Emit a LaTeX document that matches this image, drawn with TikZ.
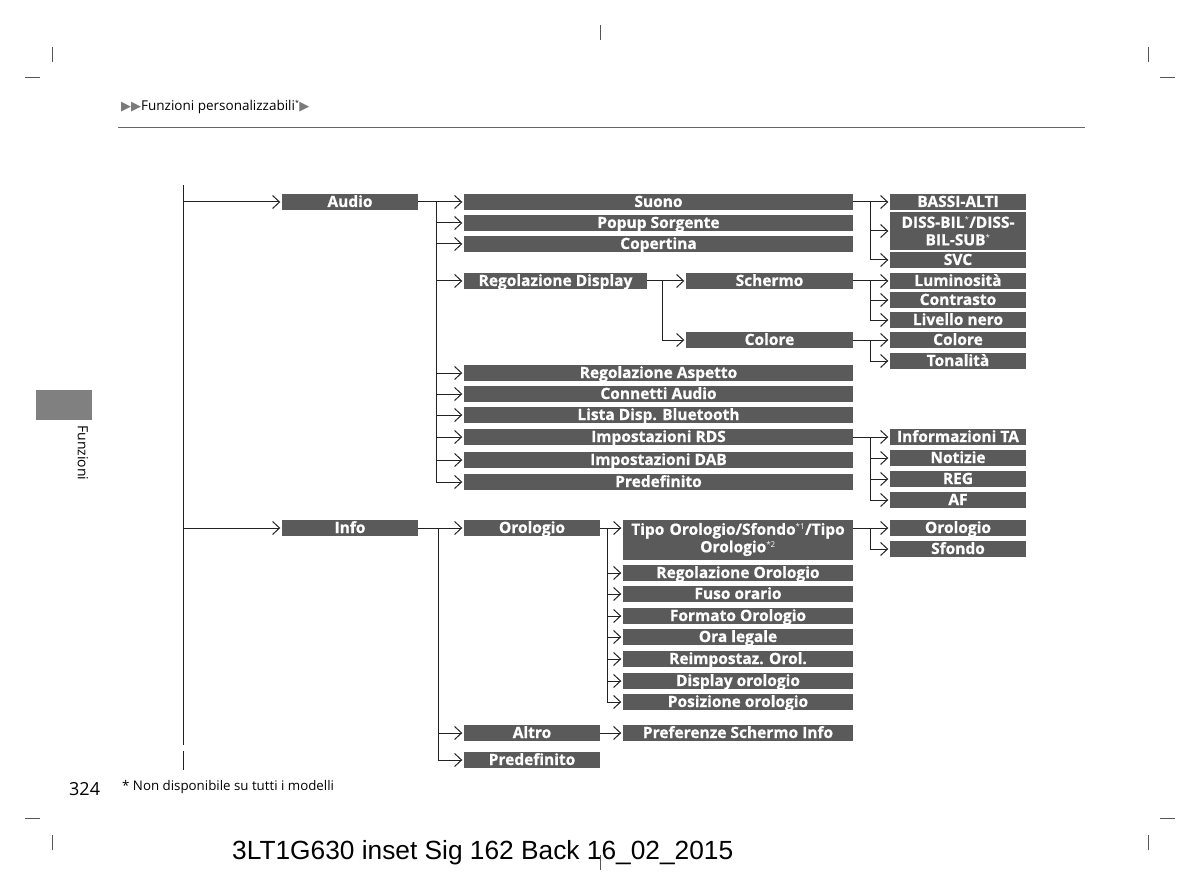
\documentclass[tikz,border=0pt]{standalone}
\usepackage{fontspec}
\setmainfont{Open Sans}
\newfontfamily\boxfont{Open Sans}[BoldFeatures={FakeBold=0.8}]
\newfontfamily\dv{DejaVu Sans}
\newfontfamily\arialf{Liberation Sans}
\usetikzlibrary{arrows.meta}
\definecolor{boxgray}{HTML}{5A5A5A}
\definecolor{linecol}{HTML}{222222}
\definecolor{tabgray}{HTML}{808080}
\definecolor{trigray}{HTML}{7A7A7A}
\definecolor{cropgray}{HTML}{555555}
\begin{document}
\begin{tikzpicture}[x=1pt,y=-1pt,
  boxbase/.style={fill=boxgray,text=white,inner sep=0pt,anchor=center,
    font=\boxfont\fontsize{15.5}{17.5}\selectfont\bfseries},
  box/.style={boxbase,minimum height=16.5pt,text height=11.5pt,text depth=1.5pt},
  twobox/.style={boxbase,align=center},
  ln/.style={draw=linecol,line width=1pt},
  arr/.style={ln,-{Straight Barb[length=7pt,width=13pt,line width=1pt]},shorten >=1.5pt},
  crop/.style={draw=cropgray,line width=0.8pt},
  wL1/.style={minimum width=136pt},
  wL2/.style={minimum width=389pt},
  wL3/.style={minimum width=136pt},
  wI2/.style={minimum width=230pt}
]
\useasboundingbox (0,0) rectangle (1200,896);

% crop marks
\draw[crop] (600,25) -- (600,40);
\draw[crop] (52,47) -- (52,62);
\draw[crop] (25,77) -- (40,77);
\draw[crop] (1148,47) -- (1148,62);
\draw[crop] (1160,77) -- (1175,77);
\draw[crop] (25,818) -- (40,818);
\draw[crop] (52,835) -- (52,850);
\draw[crop] (1160,818) -- (1175,818);
\draw[crop] (1148,835) -- (1148,850);
\draw[crop] (600,855) -- (600,870);

% header
\node[anchor=west,inner sep=0pt,font=\fontsize{13.5}{16}\selectfont] (hdr) at (121,107)
  {{\color{trigray}\dv\fontsize{13}{15}\selectfont ▶▶}Funzioni personalizzabili\textsuperscript{\fontsize{7}{8}\selectfont *}{\color{trigray}\dv\fontsize{13}{15}\selectfont ▶}};
\coordinate (r1) at (118,127);
\coordinate (r2) at (1085,127);
\draw[draw=gray!80!black,line width=0.9pt] (r1) -- (r2);

% side tab
\node[fill=tabgray,minimum width=56pt,minimum height=30pt,inner sep=0pt] (tab) at (63.5,404.5) {};
\node[rotate=-90,anchor=west,inner sep=0pt,font=\fontsize{14}{16}\selectfont] (tabtxt) at (83,425) {Funzioni};

% level 1
\node[box,wL1] (audio) at (350,202) {Audio};
\node[box,wL1] (info) at (350,528) {Info};

% audio level 2
\node[box,wL2] (suono) at (658.5,202) {Suono};
\node[box,wL2] (popup) at (658.5,223) {Popup Sorgente};
\node[box,wL2] (copertina) at (658.5,244) {Copertina};
\node[box,minimum width=183pt] (regdisp) at (555.5,281) {Regolazione Display};
\node[box,minimum width=167pt] (schermo) at (769.5,281) {Schermo};
\node[box,minimum width=167pt] (colore) at (769.5,340) {Colore};
\node[box,wL2] (regasp) at (658.5,373) {Regolazione Aspetto};
\node[box,wL2] (connetti) at (658.5,394) {Connetti Audio};
\node[box,wL2] (lista) at (658.5,415) {Lista Disp. Bluetooth};
\node[box,wL2] (rds) at (658.5,437) {Impostazioni RDS};
\node[box,wL2] (dab) at (658.5,460) {Impostazioni DAB};
\node[box,wL2] (predefa) at (658.5,482) {Predefinito};

% level 3 (right column)
\node[box,wL3] (bassi) at (958,202) {BASSI-ALTI};
\node[twobox,minimum width=136pt,minimum height=38pt,text width=136pt] (diss) at (958,231)
  {DISS-BIL\textsuperscript{\fontsize{8}{9}\selectfont\mdseries *}/DISS-\\BIL-SUB\textsuperscript{\fontsize{8}{9}\selectfont\mdseries *}};
\node[box,wL3] (svc) at (958,260) {SVC};
\node[box,wL3] (lumin) at (958,281) {Luminosità};
\node[box,wL3] (contrasto) at (958,300) {Contrasto};
\node[box,wL3] (livello) at (958,320) {Livello nero};
\node[box,wL3] (colore3) at (958,340) {Colore};
\node[box,wL3] (tonalita) at (958,361) {Tonalità};
\node[box,wL3] (infota) at (958,437) {Informazioni TA};
\node[box,wL3] (notizie) at (958,458) {Notizie};
\node[box,wL3] (reg) at (958,479) {REG};
\node[box,wL3] (af) at (958,500) {AF};
\node[box,wL3] (oro3) at (958,528) {Orologio};
\node[box,wL3] (sfondo) at (958,549) {Sfondo};

% info level 2
\node[box,wL1] (orologio) at (532,528) {Orologio};
\node[box,wL1] (altro) at (532,733) {Altro};
\node[box,wL1] (predefb) at (532,760) {Predefinito};

% info level 3
\node[twobox,minimum width=230pt,minimum height=40pt,text width=230pt] (tipo) at (738,539.5)
  {Tipo Orologio/Sfondo\textsuperscript{\fontsize{8}{9}\selectfont\mdseries *1}/Tipo\\Orologio\textsuperscript{\fontsize{8}{9}\selectfont\mdseries *2}};
\node[box,wI2] (regorol) at (738,573) {Regolazione Orologio};
\node[box,wI2] (fuso) at (738,594) {Fuso orario};
\node[box,wI2] (formato) at (738,616) {Formato Orologio};
\node[box,wI2] (ora) at (738,637) {Ora legale};
\node[box,wI2] (reimp) at (738,659) {Reimpostaz. Orol.};
\node[box,wI2] (dispor) at (738,681) {Display orologio};
\node[box,wI2] (posiz) at (738,702) {Posizione orologio};
\node[box,wI2] (pref) at (738,733) {Preferenze Schermo Info};

% main trunk
\coordinate (m1) at (183,185);
\coordinate (m2) at (183,745);
\coordinate (m3) at (183,751);
\coordinate (m4) at (183,770);
\draw[ln] (m1) -- (m2);
\draw[ln] (m3) -- (m4);
\draw[arr] (audio.west -| m1) -- (audio.west);
\draw[arr] (info.west -| m1) -- (info.west);

% audio branch
\coordinate (ab) at (436,0);
\draw[arr] (audio.east) -- (suono.west);
\draw[ln] (suono.west -| ab) -- (predefa.west -| ab);
\foreach \n in {popup,copertina,regdisp,regasp,connetti,lista,rds,dab,predefa}
  \draw[arr] (\n.west -| ab) -- (\n.west);

% regolazione display branch
\coordinate (rb) at (662,0);
\draw[arr] (regdisp.east) -- (schermo.west);
\draw[ln] (schermo.west -| rb) -- (colore.west -| rb);
\draw[arr] (colore.west -| rb) -- (colore.west);

% right column branches
\coordinate (tb) at (870,0);
\draw[arr] (suono.east) -- (bassi.west);
\draw[ln] (bassi.west -| tb) -- (svc.west -| tb);
\foreach \n in {diss,svc} \draw[arr] (\n.west -| tb) -- (\n.west);

\draw[arr] (schermo.east) -- (lumin.west);
\draw[ln] (lumin.west -| tb) -- (livello.west -| tb);
\foreach \n in {contrasto,livello} \draw[arr] (\n.west -| tb) -- (\n.west);

\draw[arr] (colore.east) -- (colore3.west);
\draw[ln] (colore3.west -| tb) -- (tonalita.west -| tb);
\draw[arr] (tonalita.west -| tb) -- (tonalita.west);

\draw[arr] (rds.east) -- (infota.west);
\draw[ln] (infota.west -| tb) -- (af.west -| tb);
\foreach \n in {notizie,reg,af} \draw[arr] (\n.west -| tb) -- (\n.west);

% info branch
\coordinate (ib) at (438,0);
\draw[arr] (info.east) -- (orologio.west);
\draw[ln] (orologio.west -| ib) -- (predefb.west -| ib);
\foreach \n in {altro,predefb} \draw[arr] (\n.west -| ib) -- (\n.west);

\coordinate (ob) at (607,0);
\draw[arr] (orologio.east) -- (orologio.east -| tipo.west);
\draw[ln] (orologio.east -| ob) -- (posiz.west -| ob);
\foreach \n in {regorol,fuso,formato,ora,reimp,dispor,posiz}
  \draw[arr] (\n.west -| ob) -- (\n.west);
\draw[arr] (altro.east) -- (pref.west);

\draw[arr] (tipo.east |- oro3.west) -- (oro3.west);
\draw[ln] (oro3.west -| tb) -- (sfondo.west -| tb);
\draw[arr] (sfondo.west -| tb) -- (sfondo.west);

% footer
\node[anchor=west,inner sep=0pt,font=\fontsize{18}{20}\selectfont] (pnum) at (69,789) {324};
\node[anchor=west,inner sep=0pt,font=\fontsize{13.3}{15}\selectfont] (fnote) at (122,787) {* Non disponibile su tutti i modelli};
\node[anchor=west,inner sep=0pt,font=\arialf\fontsize{26.3}{30}\selectfont] (sig) at (232,853) {3LT1G630 inset Sig 162 Back 16\_02\_2015};
\end{tikzpicture}
\end{document}
